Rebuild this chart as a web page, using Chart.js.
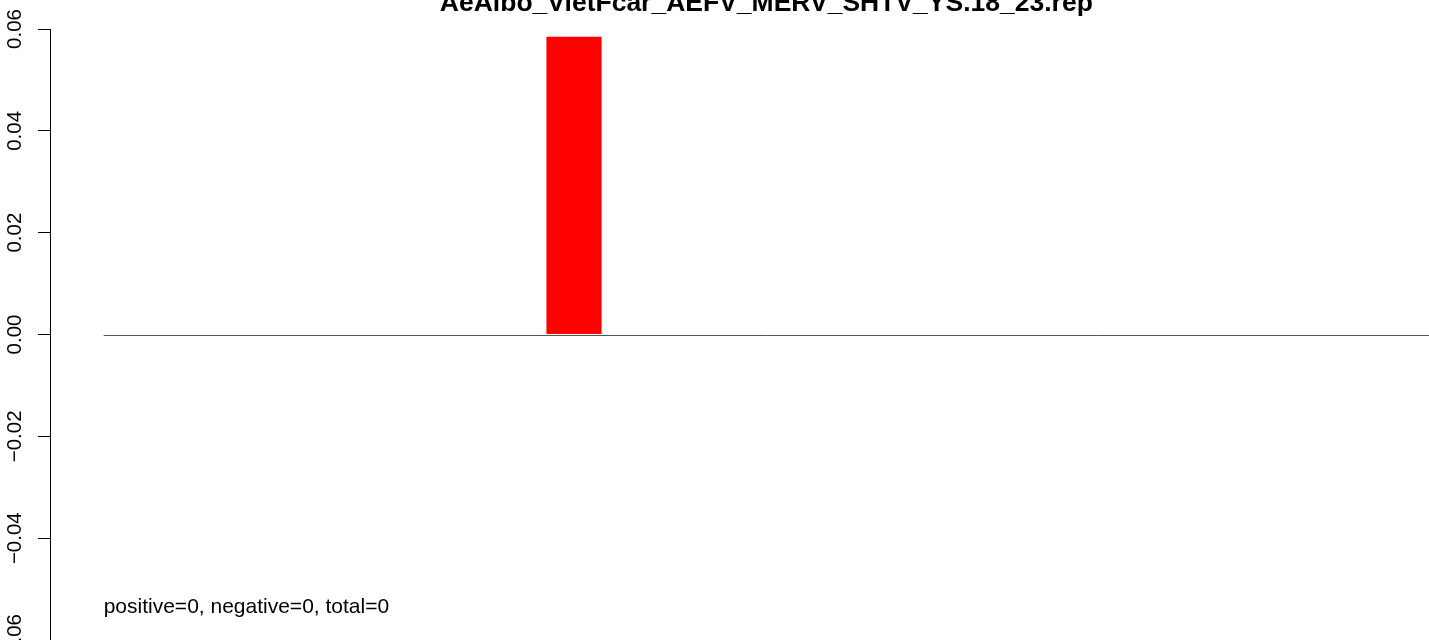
<!DOCTYPE html>
<html><head><meta charset="utf-8">
<script src="https://cdn.jsdelivr.net/npm/chart.js@4/dist/chart.umd.min.js"></script>
<style>
html,body{margin:0;padding:0;background:#fff;overflow:hidden;width:1429px;height:640px}
#wrap{position:absolute;left:0;top:0;width:1429px;height:680px}
</style>
</head><body><div id="wrap"><canvas id="c" width="1429" height="680"></canvas></div>
<script>
const titleText = 'AeAlbo_VietFcar_AEFV_MERV_SHTV_YS.18_23.rep';
const categories = ['1','2','3','4','5','6','7','8','9','10','11','12','13','14','15','16','17','18','19','20','21','22','23','24','25'];
const values = [0,0,0,0,0,0,0,0,0,0.0585,0,0,0,0,0,0,0,0,0,0,0,0,0,0,0];
const yTicks = [-0.06,-0.04,-0.02,0,0.02,0.04,0.06];
const noteText = 'positive=0, negative=0, total=0';
const noteY = -0.0546;

const FONT = '"Liberation Sans", Arial, Helvetica, sans-serif';
function fmt(v){ return (v < -1e-9 ? '\u2212' : '') + Math.abs(v).toFixed(2); }

function plotLeft(chart){
  const x = chart.scales.x;
  const half = (x.getPixelForValue(1) - x.getPixelForValue(0)) / 2;
  return x.getPixelForValue(1) - half - 1.5;
}

const extras = {
  id: 'extras',
  afterLayout(chart){
    const t = chart.titleBlock;
    t.left = plotLeft(chart); t.right = chart.chartArea.right; t.width = t.right - t.left;
  },
  beforeDatasetsDraw(chart){
    const y = chart.scales.y, ctx = chart.ctx;
    const py = Math.round(y.getPixelForValue(0)) + 0.5;
    ctx.save();
    ctx.strokeStyle = '#555555';
    ctx.lineWidth = 1;
    ctx.beginPath();
    ctx.moveTo(plotLeft(chart), py);
    ctx.lineTo(chart.chartArea.right, py);
    ctx.stroke();
    ctx.restore();
  },
  afterDraw(chart){
    const y = chart.scales.y, ctx = chart.ctx;
    ctx.save();
    ctx.fillStyle = '#000';
    ctx.font = '21px ' + FONT;
    ctx.textAlign = 'left';
    ctx.textBaseline = 'alphabetic';
    ctx.fillText(noteText, plotLeft(chart), y.getPixelForValue(noteY));
    ctx.restore();
  }
};

new Chart(document.getElementById('c'), {
  type: 'bar',
  data: {
    labels: categories,
    datasets: [{
      data: values,
      backgroundColor: (c) => (c.raw === 0 ? 'rgba(0,0,0,0)' : '#ff0000'),
      borderWidth: 0,
      inflateAmount: 0,
      barPercentage: 1,
      categoryPercentage: 1
    }]
  },
  options: {
    responsive: false,
    animation: false,
    devicePixelRatio: 1,
    layout: { padding: 0 },
    plugins: {
      legend: { display: false },
      tooltip: { enabled: false },
      title: {
        display: true,
        text: titleText,
        color: '#000',
        font: { family: FONT, size: 26.5, weight: 'bold', lineHeight: 1.2 },
        padding: { top: -12.1, bottom: 9.3 }
      }
    },
    scales: {
      x: {
        display: true,
        grid: { display: false },
        border: { display: false },
        ticks: { display: false },
        afterFit(s){ s.height = 40; }
      },
      y: {
        min: -0.06,
        max: 0.06,
        afterBuildTicks(s){ s.ticks = yTicks.map(v => ({ value: v })); },
        afterFit(s){ s.width = 50; },
        grid: { drawOnChartArea: false, tickLength: 12, color: '#000', lineWidth: 1 },
        border: { display: true, color: '#000', width: 1 },
        ticks: {
          minRotation: 90, maxRotation: 90,
          crossAlign: 'center',
          padding: -3,
          color: '#000',
          font: { family: FONT, size: 20.5 },
          callback: (v) => fmt(v)
        }
      }
    }
  },
  plugins: [extras]
});
</script>
</body></html>
